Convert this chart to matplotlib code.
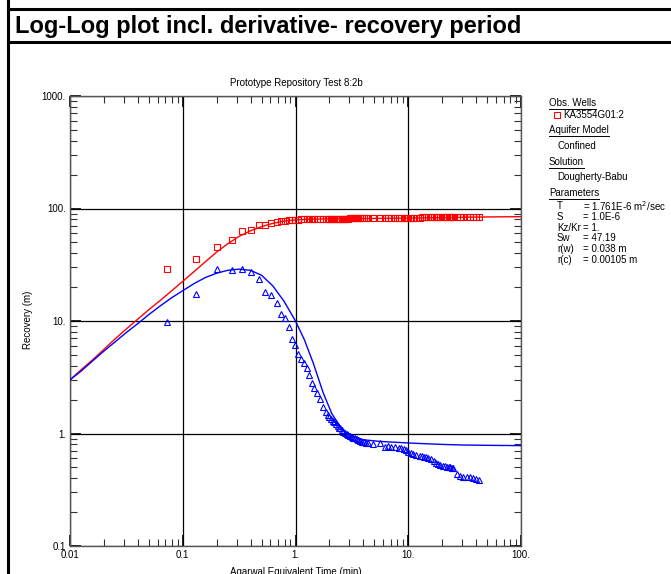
import matplotlib
matplotlib.use('Agg')
import matplotlib.pyplot as plt
from matplotlib.lines import Line2D
from matplotlib.ticker import FixedLocator, FixedFormatter, LogLocator, NullFormatter

plt.rcParams['font.family'] = ['Liberation Sans', 'DejaVu Sans']

# ---------------- data ----------------
x_ticks = [0.01, 0.1, 1, 10, 100]
x_tick_labels = ['0.01', '0.1', '1.', '10.', '100.']
y_ticks = [0.1, 1, 10, 100, 1000]
y_tick_labels = ['0.1', '1.', '10.', '100.', '1000.']

# observed times (min)
t_obs = [0.072, 0.132, 0.2025, 0.275, 0.335, 0.40, 0.478, 0.535, 0.607, 0.683,
         0.74, 0.81, 0.88, 0.93, 0.995, 1.06, 1.13, 1.19, 1.27, 1.33,
         1.39, 1.47, 1.56, 1.66, 1.75, 1.87, 1.94, 2.0, 2.07, 2.13,
         2.2, 2.28, 2.36, 2.44, 2.5, 2.58, 2.66, 2.75, 2.84, 2.94,
         3.04, 3.15, 3.26, 3.37, 3.5, 3.62, 3.75, 3.9, 4.05, 4.2,
         4.4, 4.9, 5.6, 6.2, 6.6, 7.1, 7.6, 8.2, 8.6, 9.1,
         9.5, 10.0, 10.5, 11.1, 11.8, 12.6, 13.2, 13.8, 14.4, 15.1,
         15.9, 16.8, 17.8, 18.5, 19.3, 20.4, 21.2, 22.0, 22.8, 23.4,
         24.2, 25.0, 26.8, 28.5, 30.5, 33.0, 35.0, 37.5, 40.0, 42.0]

# observed recovery (m)
recovery_obs = [29.0, 35.3, 45.2, 52.0, 63.0, 64.7, 71.3, 71.5, 74.8, 76.3,
                77.5, 78.0, 78.5, 79.0, 79.5, 79.8, 80.0, 80.1, 80.2, 80.3,
                80.4, 80.5, 80.6, 80.6, 80.7, 80.8, 80.8, 80.9, 80.9, 81.0,
                81.0, 81.1, 81.1, 81.2, 81.2, 81.3, 81.3, 81.3, 81.4, 81.4,
                81.5, 81.5, 81.6, 81.6, 81.6, 81.7, 81.7, 81.8, 81.8, 81.8,
                81.9, 82.0, 82.1, 82.2, 82.2, 82.3, 82.4, 82.5, 82.5, 82.6,
                82.7, 82.8, 82.9, 83.0, 83.0, 83.1, 83.2, 83.2, 83.3, 83.4,
                83.4, 83.5, 83.6, 83.6, 83.7, 83.7, 83.8, 83.8, 83.9, 83.9,
                84.0, 84.0, 84.1, 84.1, 84.2, 84.2, 84.3, 84.3, 84.4, 84.4]

# observed derivative (m)
deriv_obs = [9.7, 17.3, 28.8, 28.3, 28.8, 27.0, 23.5, 18.1, 17.1, 14.4,
             11.5, 10.6, 8.8, 6.9, 6.1, 5.06, 4.56, 4.2, 3.8, 3.3,
             2.79, 2.52, 2.3, 2.01, 1.73, 1.56, 1.46, 1.39, 1.34, 1.30,
             1.26, 1.22, 1.17, 1.13, 1.11, 1.07, 1.04, 1.02, 1.0, 0.97,
             0.95, 0.93, 0.92, 0.906, 0.89, 0.87, 0.86, 0.845, 0.84, 0.83,
             0.818, 0.807, 0.818, 0.764, 0.77, 0.764, 0.76, 0.748, 0.74, 0.724,
             0.71, 0.689, 0.67, 0.657, 0.645, 0.631, 0.625, 0.62, 0.614, 0.60,
             0.59, 0.565, 0.543, 0.535, 0.525, 0.517, 0.51, 0.505, 0.50, 0.501,
             0.495, 0.49, 0.437, 0.415, 0.413, 0.41, 0.413, 0.40, 0.392, 0.385]

# model curves (Dougherty-Babu)
t_model = [0.01, 0.0126, 0.0158, 0.02, 0.025, 0.0316, 0.04, 0.05, 0.063, 0.079,
           0.1, 0.126, 0.158, 0.2, 0.25, 0.316, 0.4, 0.5, 0.63, 0.79,
           1.0, 1.2, 1.44, 1.76, 2.1, 2.5, 2.75, 3.2, 4.0, 5.6,
           11.0, 20.0, 31.0, 50.0, 100.0]
recovery_model = [3.0, 3.7, 4.5, 5.6, 6.9, 8.5, 10.4, 12.6, 15.2, 18.4,
                  22.5, 27.5, 33.5, 41.0, 48.5, 56.5, 63.5, 69.0, 73.8, 77.2,
                  79.2, 80.0, 80.4, 80.7, 80.9, 81.0, 81.1, 81.2, 81.4, 81.7,
                  82.3, 83.0, 83.6, 84.1, 84.6]
deriv_model = [3.0, 3.6, 4.4, 5.4, 6.5, 7.9, 9.5, 11.4, 13.6, 16.0,
               18.6, 21.5, 24.3, 26.6, 28.2, 28.9, 28.2, 25.5, 20.5, 15.0,
               10.0, 6.8, 4.2, 2.3, 1.5, 1.15, 1.04, 0.95, 0.88, 0.85,
               0.82, 0.80, 0.79, 0.785, 0.78]

legend_lines = [
    ('Obs. Wells', 103, True, 549),
    ('KA3554G01:2', 115, False, 563),
    ('Aquifer Model', 130, True, 549),
    ('Confined', 146, False, 557),
    ('Solution', 162, True, 549),
    ('Dougherty-Babu', 177, False, 557),
    ('Parameters', 193, True, 549),
]
param_names = ['T', 'S', 'Kz/Kr', 'Sw', 'r(w)', 'r(c)']
param_values = ['= 1.761E-6 m$^{2}$/sec', '= 1.0E-6', '= 1.', '= 47.19',
                '= 0.038 m', '= 0.00105 m']
param_y = [206, 217, 228, 238, 249, 260]

# ---------------- figure ----------------
W, H = 671, 574
fig = plt.figure(figsize=(W / 100, H / 100), dpi=100)
fig.patch.set_facecolor('white')

def fx(px):
    return px / W

def fy(py):
    return 1 - py / H

# outer frame / title box
fig.add_artist(Line2D([fx(8), fx(8)], [0, 1], color='black', lw=2.2))
fig.add_artist(Line2D([fx(8), 1], [fy(9), fy(9)], color='black', lw=2.2))
fig.add_artist(Line2D([fx(8), 1], [fy(42), fy(42)], color='black', lw=2.2))
fig.text(fx(15), fy(26), 'Log-Log plot incl. derivative- recovery period',
         fontsize=17, fontweight='bold', ha='left', va='center')

ax = fig.add_axes([fx(70), fy(546), (521 - 70) / W, (546 - 96) / H])
ax.set_xscale('log')
ax.set_yscale('log')
ax.set_xlim(0.01, 100)
ax.set_ylim(0.1, 1000)

ax.plot(t_model, recovery_model, color='#ff0000', lw=1.0, zorder=3)
ax.plot(t_model, deriv_model, color='#0000ff', lw=1.0, zorder=3)
ax.plot(t_obs, recovery_obs, linestyle='none', marker='s', markersize=4.3,
        markerfacecolor='none', markeredgecolor='#ff0000', markeredgewidth=0.8, zorder=4)
ax.plot(t_obs, deriv_obs, linestyle='none', marker='^', markersize=4.3,
        markerfacecolor='none', markeredgecolor='#0000ff', markeredgewidth=0.8, zorder=4)

ax.xaxis.set_major_locator(FixedLocator(x_ticks))
ax.xaxis.set_major_formatter(FixedFormatter(x_tick_labels))
ax.yaxis.set_major_locator(FixedLocator(y_ticks))
ax.yaxis.set_major_formatter(FixedFormatter(y_tick_labels))
ax.xaxis.set_minor_locator(LogLocator(base=10, subs=range(2, 10)))
ax.yaxis.set_minor_locator(LogLocator(base=10, subs=range(2, 10)))
ax.xaxis.set_minor_formatter(NullFormatter())
ax.yaxis.set_minor_formatter(NullFormatter())

ax.tick_params(which='both', direction='in', top=True, right=True)
ax.tick_params(which='minor', length=5, width=0.8, color='#333333')
ax.tick_params(which='major', length=8, width=1.2, color='black', labelsize=7, pad=3)
ax.grid(True, which='major', color='black', linewidth=0.9, zorder=1)
for s in ax.spines.values():
    s.set_color('#555555')
    s.set_linewidth(1.0)

fig.text(fx(296), fy(83), 'Prototype Repository Test 8:2b', fontsize=7,
         ha='center', va='center')
fig.text(fx(28), fy(320), 'Recovery (m)', fontsize=7, rotation=90,
         ha='center', va='center')
fig.text(fx(296), fy(567), 'Agarwal Equivalent Time (min)', fontsize=7,
         ha='center', va='top')

# legend / info panel
renderer = fig.canvas.get_renderer()
for label, py, underline, px in legend_lines:
    t = fig.text(fx(px), fy(py), label, fontsize=7, ha='left', va='center')
    if underline:
        bb = t.get_window_extent(renderer=renderer)
        fig.add_artist(Line2D([bb.x0 / W, bb.x1 / W], [(bb.y0 - 1) / H, (bb.y0 - 1) / H],
                              color='black', lw=0.7))
fig.add_artist(Line2D([fx(557)], [fy(115)], marker='s', markersize=4,
                      markerfacecolor='none', markeredgecolor='#ff0000',
                      markeredgewidth=0.8, linestyle='none'))
for name, val, py in zip(param_names, param_values, param_y):
    fig.text(fx(557), fy(py), name, fontsize=7, ha='left', va='center')
    fig.text(fx(583), fy(py), val, fontsize=7, ha='left', va='center')

fig.savefig('out.png', dpi=100, facecolor='white')
